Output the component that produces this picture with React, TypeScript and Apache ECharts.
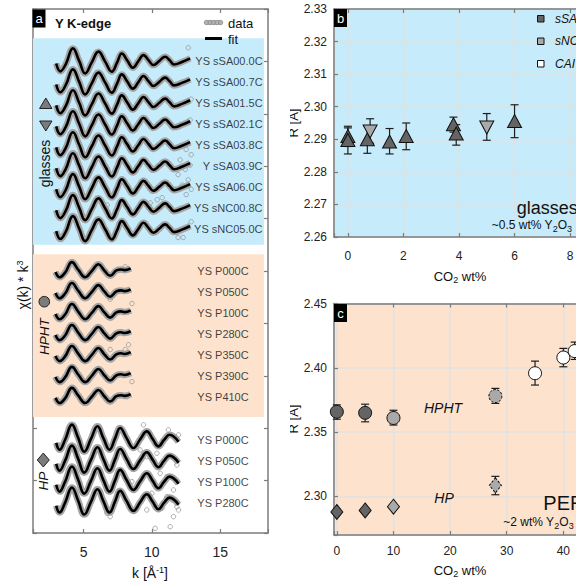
import React, { useEffect, useRef } from 'react';
import * as echarts from 'echarts';

const FONT = 'Arial, "Liberation Sans", Helvetica, sans-serif';
const BLUE = '#c6ebfb';
const PEACH = '#fde3cd';
const FRAME = '#7c7c7c';
const DARK = '#646464';
const LIGHT = '#a9a9a9';
const GRIDLINE = '#e0e0e0';

// ---------- panel a : k^3-weighted EXAFS, shapes ----------
const glassK = [3.0, 3.3, 3.7, 4.22, 4.68, 5.12, 5.6, 6.09, 6.58, 7.07, 7.45, 7.8, 8.2, 8.61, 9.0, 9.39, 9.75, 10.12, 10.55, 10.97, 11.3, 11.63, 12.2, 12.8];
const glassFit = [-0.2, -0.95, -0.25, 1.24, 0.05, -1.15, -0.1, 0.93, -0.02, -0.98, -0.12, 0.76, 0.08, -0.6, 0.0, 0.6, 0.12, -0.35, 0.05, 0.45, 0.1, -0.29, -0.05, 0.29];
const hphtK = [2.95, 3.25, 3.65, 4.15, 4.62, 5.12, 5.6, 6.09, 6.52, 6.95, 7.4, 7.75, 8.0, 8.45];
const hphtFit = [-0.1, -0.6, -0.15, 0.85, 0.1, -0.6, 0.0, 0.65, 0.05, -0.45, 0.05, 0.15, 0.08, 0.25];
const hpK = [3.0, 3.24, 3.65, 4.15, 4.6, 5.05, 5.55, 6.02, 6.45, 6.9, 7.3, 7.68, 8.15, 8.65, 9.15, 9.63, 10.05, 10.48, 10.9, 11.3, 11.95];
const hpFit = [-0.4, -1.05, -0.1, 1.34, 0.1, -1.24, 0.0, 1.18, 0.05, -1.05, 0.0, 1.02, 0.05, -0.89, -0.05, 0.7, 0.0, -0.73, -0.1, 0.38, -0.3];

const glassNames = ['YS sSA00.0C', 'YS sSA00.7C', 'YS sSA01.5C', 'YS sSA02.1C', 'YS sSA03.8C', 'Y sSA03.9C', 'YS sSA06.0C', 'YS sNC00.8C', 'YS sNC05.0C'];
const glassOffsets = [45, 43, 41, 39, 37, 35, 33, 31, 29];
const hphtNames = ['YS P000C', 'YS P050C', 'YS P100C', 'YS P280C', 'YS P350C', 'YS P390C', 'YS P410C'];
const hphtOffsets = [25, 23, 21, 19, 17, 15, 13];
const hpNames = ['YS P000C', 'YS P050C', 'YS P100C', 'YS P280C'];
const hpOffsets = [9, 7, 5, 3];

// scattered noisy data points (k, stacked value)
const glassOutliers = [[12.29, 28.2], [11.92, 28.2], [10.39, 31.8], [10.75, 32.0], [12.07, 35.6], [12.44, 34.7], [12.8, 35.1], [12.66, 33.7], [12.22, 33.2], [12.88, 32.8], [12.51, 32.3], [11.92, 34.2], [11.7, 32.8], [12.88, 36.1], [12.51, 36.6], [12.88, 29.7], [12.66, 46.3], [12.88, 41.4], [12.8, 39.4], [9.88, 31.5], [6.73, 31.3]];
const hphtOutliers = [[8.05, 25.4], [8.54, 21.9], [8.05, 17.5], [8.29, 17.96], [8.54, 14.45], [8.17, 13.0], [6.95, 22.3], [6.95, 17.5]];
const hpOutliers = [[9.39, 10.32], [10.24, 0.45], [11.34, 0.6], [11.58, 1.56], [11.95, 2.2], [11.21, 9.84], [11.95, 9.36], [9.63, 7.29], [10.37, 7.61], [10.61, 5.7], [11.1, 5.38], [11.58, 4.11], [10.0, 3.79], [9.39, 3.47], [11.1, 3.47], [11.46, 3.15], [11.83, 2.51], [10.73, 2.36], [9.63, 2.2], [6.95, 1.56], [6.71, 1.88], [11.83, 6.49], [9.14, 7.93], [8.54, 4.9]];

// ---------- panel b : glasses ----------
const sSA_CO2 = [0, 0, 0.7, 1.5, 2.1, 3.8, 3.9, 6.0];
const sSA_R = [2.2910, 2.2898, 2.2900, 2.2893, 2.2910, 2.2946, 2.2918, 2.2956];
const sSA_lo = [2.2878, 2.2855, 2.2857, 2.2855, 2.2868, 2.2922, 2.2882, 2.2905];
const sSA_hi = [2.2940, 2.2935, 2.2940, 2.2933, 2.2950, 2.2968, 2.2945, 2.3006];
const sNC_CO2 = [0.8, 5.0];
const sNC_R = [2.2924, 2.2936];
const sNC_lo = [2.2888, 2.2897];
const sNC_hi = [2.2963, 2.2979];

// ---------- panel c : PER melts ----------
const hphtDark_CO2 = [0, 5];
const hphtDark_R = [2.3658, 2.3650];
const hphtLight_CO2 = [10];
const hphtLight_R = [2.3610];
const hphtDash_CO2 = [28];
const hphtDash_R = [2.3780];
const hphtCAI_CO2 = [35, 40, 42];
const hphtCAI_R = [2.3958, 2.4080, 2.4130];
const hphtErr_CO2 = [0, 5, 10, 28, 35, 40, 42];
const hphtErr_lo = [2.3600, 2.3580, 2.3555, 2.3723, 2.3866, 2.4008, 2.4065];
const hphtErr_hi = [2.3712, 2.3717, 2.3670, 2.3840, 2.4052, 2.4151, 2.4200];
const hpDark_CO2 = [0, 5];
const hpDark_R = [2.2879, 2.2891];
const hpLight_CO2 = [10];
const hpLight_R = [2.2920];
const hpDash_CO2 = [28];
const hpDash_R = [2.3086];
const hpErr_CO2 = [28];
const hpErr_lo = [2.3013];
const hpErr_hi = [2.3156];

const zip = (xs: number[], ys: number[]) => xs.map((x, i) => [x, ys[i]]);
const stack = (ks: number[], amps: number[], off: number) => ks.map((k, i) => [k, amps[i] + off]);

function frameAxis(extra: any) {
  return {
    type: 'value',
    axisLine: { show: true, onZero: false, lineStyle: { color: FRAME, width: 1.5 } },
    axisTick: { show: true, inside: true, length: 4, lineStyle: { color: FRAME, width: 1.2 } },
    splitLine: { show: false },
    axisLabel: { show: false },
    ...extra,
  };
}

const multipleOf = (step: number, digits: number) => (v: number) => {
  const r = Math.round(v / step) * step;
  return Math.abs(v - r) < 1e-6 ? r.toFixed(digits) : '';
};

function errSeries(xi: number, yi: number, xs: number[], lo: number[], hi: number[]) {
  return {
    type: 'custom',
    xAxisIndex: xi,
    yAxisIndex: yi,
    z: 3,
    silent: true,
    encode: { x: 0, y: [1, 2] },
    data: xs.map((x, i) => [x, lo[i], hi[i]]),
    renderItem: (params: any, api: any) => {
      const x = api.value(0);
      const a = api.coord([x, api.value(1)]);
      const b = api.coord([x, api.value(2)]);
      const st = { stroke: '#1e1e1e', lineWidth: 1.2, fill: null };
      return {
        type: 'group',
        children: [
          { type: 'line', shape: { x1: a[0], y1: a[1], x2: b[0], y2: b[1] }, style: st },
          { type: 'line', shape: { x1: a[0] - 4, y1: a[1], x2: a[0] + 4, y2: a[1] }, style: st },
          { type: 'line', shape: { x1: b[0] - 4, y1: b[1], x2: b[0] + 4, y2: b[1] }, style: st },
        ],
      };
    },
  };
}

function markerSeries(name: string, xi: number, yi: number, data: number[][], symbol: string, size: any, color: string, extra: any = {}) {
  return {
    name,
    type: 'scatter',
    xAxisIndex: xi,
    yAxisIndex: yi,
    z: 4,
    silent: true,
    symbol,
    symbolSize: size,
    data,
    itemStyle: { color, borderColor: '#111', borderWidth: 1, opacity: 1, ...(extra.itemStyle || {}) },
    ...(extra.symbolRotate !== undefined ? { symbolRotate: extra.symbolRotate } : {}),
  };
}

function buildOption() {
  const series: any[] = [];

  // panel a backgrounds
  series.push({
    type: 'line',
    xAxisIndex: 0,
    yAxisIndex: 0,
    data: [],
    z: 1,
    silent: true,
    markArea: {
      silent: true,
      data: [
        [{ xAxis: 1.3, yAxis: 27.5, itemStyle: { color: BLUE, opacity: 1 } }, { xAxis: 18.2, yAxis: 47.2 }],
        [{ xAxis: 1.3, yAxis: 11.07, itemStyle: { color: PEACH, opacity: 1 } }, { xAxis: 18.2, yAxis: 26.6 }],
      ],
    },
  });

  const groups = [
    { ks: glassK, amps: glassFit, offs: glassOffsets },
    { ks: hphtK, amps: hphtFit, offs: hphtOffsets },
    { ks: hpK, amps: hpFit, offs: hpOffsets },
  ];
  groups.forEach((g) => {
    g.offs.forEach((off) => {
      series.push({
        type: 'line', xAxisIndex: 0, yAxisIndex: 0, z: 2, silent: true, smooth: 0.45,
        showSymbol: false, data: stack(g.ks, g.amps, off),
        lineStyle: { color: '#a4a4a4', width: 6.5 },
      });
    });
  });
  series.push({
    type: 'scatter', xAxisIndex: 0, yAxisIndex: 0, z: 2, silent: true, symbol: 'circle', symbolSize: 4.5,
    data: [...glassOutliers, ...hphtOutliers, ...hpOutliers],
    itemStyle: { color: 'rgba(0,0,0,0)', borderColor: '#9a9a9a', borderWidth: 1 },
  });
  groups.forEach((g) => {
    g.offs.forEach((off) => {
      series.push({
        type: 'line', xAxisIndex: 0, yAxisIndex: 0, z: 3, silent: true, smooth: 0.45,
        showSymbol: false, data: stack(g.ks, g.amps, off),
        lineStyle: { color: '#000', width: 2.6 },
      });
    });
  });
  const labelSeries = (names: string[], offs: number[], k: number, pos: string) => ({
    type: 'scatter', xAxisIndex: 0, yAxisIndex: 0, z: 5, silent: true, symbolSize: 1,
    itemStyle: { color: 'rgba(0,0,0,0)' },
    label: { show: true, position: pos, distance: 0, formatter: '{b}', color: '#111', fontSize: 11, fontFamily: FONT },
    data: names.map((n, i) => ({ name: n, value: [k, offs[i]] })),
  });
  series.push(labelSeries(glassNames, glassOffsets, 18.14, 'left'));
  series.push(labelSeries(hphtNames, hphtOffsets, 13.29, 'right'));
  series.push(labelSeries(hpNames, hpOffsets.map((o) => o - 0.1), 13.29, 'right'));

  // panel b
  series.push(errSeries(2, 2, sSA_CO2, sSA_lo, sSA_hi));
  series.push(errSeries(2, 2, sNC_CO2, sNC_lo, sNC_hi));
  series.push(markerSeries('sSA', 2, 2, zip(sSA_CO2, sSA_R), 'triangle', [14, 13], DARK));
  series.push(markerSeries('sNC', 2, 2, zip(sNC_CO2, sNC_R), 'triangle', [14, 13], LIGHT, { symbolRotate: 180 }));

  // panel c
  series.push(errSeries(4, 4, hphtErr_CO2, hphtErr_lo, hphtErr_hi));
  series.push(errSeries(4, 4, hpErr_CO2, hpErr_lo, hpErr_hi));
  series.push(markerSeries('HPHT sSA', 4, 4, zip(hphtDark_CO2, hphtDark_R), 'circle', 13, DARK));
  series.push(markerSeries('HPHT sNC', 4, 4, zip(hphtLight_CO2, hphtLight_R), 'circle', 13, LIGHT));
  series.push(markerSeries('HPHT dashed', 4, 4, zip(hphtDash_CO2, hphtDash_R), 'circle', 13, LIGHT, { itemStyle: { borderType: [2.5, 1.5] } }));
  series.push(markerSeries('HPHT CAI', 4, 4, zip(hphtCAI_CO2, hphtCAI_R), 'circle', 13, '#ffffff'));
  series.push(markerSeries('HP sSA', 4, 4, zip(hpDark_CO2, hpDark_R), 'diamond', [12, 15], DARK));
  series.push(markerSeries('HP sNC', 4, 4, zip(hpLight_CO2, hpLight_R), 'diamond', [12, 15], LIGHT));
  series.push(markerSeries('HP dashed', 4, 4, zip(hpDash_CO2, hpDash_R), 'diamond', [12, 15], LIGHT, { itemStyle: { borderType: [2.5, 1.5] } }));

  const tickLabel = (size: number, margin: number, fmt: any) => ({
    show: true, color: '#222', fontSize: size, fontFamily: FONT, margin, formatter: fmt,
  });
  const split = { show: true, lineStyle: { color: GRIDLINE, width: 1.5 } };

  const xAxis = [
    frameAxis({ gridIndex: 0, position: 'bottom', min: 1.3, max: 18.5, splitNumber: 3, axisLabel: tickLabel(14, 12, multipleOf(5, 0)) }),
    frameAxis({ gridIndex: 0, position: 'top', min: 1.3, max: 18.5, splitNumber: 3 }),
    frameAxis({ gridIndex: 1, position: 'bottom', min: -0.5, max: 8.5, splitNumber: 4, splitLine: split, axisLabel: tickLabel(12, 13, multipleOf(2, 0)) }),
    frameAxis({ gridIndex: 1, position: 'top', min: -0.5, max: 8.5, splitNumber: 4 }),
    frameAxis({ gridIndex: 2, position: 'bottom', min: -0.5, max: 44, splitNumber: 4, splitLine: split, axisLabel: tickLabel(12, 10, multipleOf(10, 0)) }),
    frameAxis({ gridIndex: 2, position: 'top', min: -0.5, max: 44, splitNumber: 4 }),
  ];
  const yAxis = [
    frameAxis({ gridIndex: 0, position: 'left', min: 0, max: 50, interval: 5 }),
    frameAxis({ gridIndex: 0, position: 'right', min: 0, max: 50, interval: 5 }),
    frameAxis({ gridIndex: 1, position: 'left', min: 2.26, max: 2.33, interval: 0.01, splitLine: split, axisLabel: tickLabel(12, 7, (v: number) => v.toFixed(2)) }),
    frameAxis({ gridIndex: 1, position: 'right', min: 2.26, max: 2.33, interval: 0.01 }),
    frameAxis({ gridIndex: 2, position: 'left', min: 2.27, max: 2.45, splitNumber: 4, splitLine: split, axisLabel: tickLabel(12, 7, multipleOf(0.05, 2)) }),
    frameAxis({ gridIndex: 2, position: 'right', min: 2.27, max: 2.45, splitNumber: 4 }),
  ];

  const sub = { fontSize: 9, fontFamily: FONT, padding: [7, 0, 0, 0] };
  const sup = { fontSize: 9, fontFamily: FONT, padding: [0, 0, 7, 0] };
  const txt = (x: number, y: number, text: string, o: any = {}) => ({
    type: 'text', x, y, z: 100, silent: true, rotation: o.rotation || 0,
    style: {
      text, fontFamily: FONT, fontSize: o.size || 13, fill: o.color || '#111',
      fontWeight: o.weight || 'normal', fontStyle: o.italic ? 'italic' : 'normal',
      align: o.align || 'left', verticalAlign: 'middle', rich: { sub: { ...sub, fill: o.color || '#111' }, sup: { ...sup, fill: o.color || '#111' } },
    },
  });
  const tag = (x: number, y: number, s: string) => [
    { type: 'rect', z: 100, silent: true, shape: { x, y, width: 13, height: 18 }, style: { fill: '#000' } },
    { type: 'text', z: 101, silent: true, x: x + 6.5, y: y + 9, style: { text: s, fill: '#fff', fontSize: 13, fontFamily: FONT, align: 'center', verticalAlign: 'middle' } },
  ];
  const gsym = (shape: any) => ({ z: 100, silent: true, ...shape });

  const graphic = [
    ...tag(32.5, 9.5, 'a'),
    ...tag(334, 9, 'b'),
    ...tag(334, 304, 'c'),
    txt(55, 23.5, 'Y K-edge', { weight: 'bold', size: 13 }),
    // legend of panel a
    gsym({ type: 'rect', shape: { x: 204, y: 20, width: 19, height: 5, r: 2.5 }, style: { fill: '#b4b4b4' } }),
    ...[206.5, 210, 213.5, 217, 220.5].map((cx) => gsym({ type: 'circle', shape: { cx, cy: 22.5, r: 2.2 }, style: { fill: 'none', stroke: '#8e8e8e', lineWidth: 0.8 } })),
    txt(228, 23.5, 'data', { size: 13 }),
    gsym({ type: 'line', shape: { x1: 205, y1: 38.5, x2: 222, y2: 38.5 }, style: { stroke: '#000', lineWidth: 3 } }),
    txt(228, 39, 'fit', { size: 13 }),
    // group markers in panel a
    gsym({ type: 'polygon', shape: { points: [[45.8, 98], [52, 108.5], [39.6, 108.5]] }, style: { fill: '#7b7b7b', stroke: '#222', lineWidth: 1 } }),
    gsym({ type: 'polygon', shape: { points: [[39.6, 121], [52, 121], [45.8, 131]] }, style: { fill: '#7b7b7b', stroke: '#222', lineWidth: 1 } }),
    txt(44.5, 163.5, 'glasses', { size: 14, rotation: Math.PI / 2, align: 'center' }),
    gsym({ type: 'circle', shape: { cx: 44.3, cy: 301.7, r: 5.3 }, style: { fill: '#7b7b7b', stroke: '#222', lineWidth: 1 } }),
    txt(44, 336.7, 'HPHT', { size: 13.5, italic: true, rotation: Math.PI / 2, align: 'center' }),
    gsym({ type: 'polygon', shape: { points: [[43.3, 453], [49.3, 460], [43.3, 467], [37.3, 460]] }, style: { fill: '#7b7b7b', stroke: '#222', lineWidth: 1 } }),
    txt(43, 481, 'HP', { size: 13.5, italic: true, rotation: Math.PI / 2, align: 'center' }),
    // axis names
    txt(150, 573, 'k [Å{sup|-1}]', { size: 14, align: 'center' }),
    txt(23, 285, 'χ(k) * k{sup|3}', { size: 14, rotation: Math.PI / 2, align: 'center' }),
    txt(460, 276, 'CO{sub|2} wt%', { size: 13, align: 'center' }),
    txt(460, 570, 'CO{sub|2} wt%', { size: 13, align: 'center' }),
    txt(293, 123, 'R [Å]', { size: 13, rotation: Math.PI / 2, align: 'center' }),
    txt(293, 419, 'R [Å]', { size: 13, rotation: Math.PI / 2, align: 'center' }),
    gsym({ type: 'rect', z: 102, shape: { x: 269.6, y: 0, width: 20.4, height: 588 }, style: { fill: '#fff' } }),
    // panel b legend and notes
    gsym({ type: 'rect', shape: { x: 537.5, y: 15.5, width: 6.5, height: 6.5 }, style: { fill: DARK, stroke: '#111', lineWidth: 1 } }),
    gsym({ type: 'rect', shape: { x: 537.5, y: 38, width: 6.5, height: 6.5 }, style: { fill: LIGHT, stroke: '#111', lineWidth: 1 } }),
    gsym({ type: 'rect', shape: { x: 537.5, y: 60.5, width: 6.5, height: 6.5 }, style: { fill: '#fff', stroke: '#111', lineWidth: 1 } }),
    txt(555, 18.8, 'sSA', { size: 12, italic: true }),
    txt(555, 41.3, 'sNC', { size: 12, italic: true }),
    txt(555, 63.8, 'CAI', { size: 12, italic: true }),
    txt(516.7, 208, 'glasses', { size: 18 }),
    txt(491.7, 225, '~0.5 wt% Y{sub|2}O{sub|3}', { size: 12 }),
    // panel c notes
    txt(443, 407.5, 'HPHT', { size: 14, italic: true, align: 'center' }),
    txt(444, 497.5, 'HP', { size: 14, italic: true, align: 'center' }),
    txt(543.3, 502.5, 'PER', { size: 20 }),
    txt(503.3, 522, '~2 wt% Y{sub|2}O{sub|3}', { size: 12 }),
  ];

  return {
    animation: false,
    backgroundColor: '#fff',
    textStyle: { fontFamily: FONT },
    grid: [
      { left: 33, top: 9, width: 235, height: 524 },
      { left: 334, top: 9, width: 250, height: 228, show: true, backgroundColor: BLUE, borderWidth: 0 },
      { left: 334, top: 303.5, width: 252, height: 231.5, show: true, backgroundColor: PEACH, borderWidth: 0 },
    ],
    xAxis,
    yAxis,
    series,
    graphic,
  };
}

export default function App() {
  const ref = useRef<HTMLDivElement>(null);
  useEffect(() => {
    const chart = echarts.init(ref.current as HTMLDivElement, null, { renderer: 'svg' });
    chart.setOption(buildOption() as any);
    return () => chart.dispose();
  }, []);
  return (
    <div style={{ position: 'fixed', left: 0, top: 0, width: 576, height: 588, overflow: 'hidden', background: '#fff' }}>
      <div ref={ref} style={{ width: 640, height: 588 }} />
    </div>
  );
}
